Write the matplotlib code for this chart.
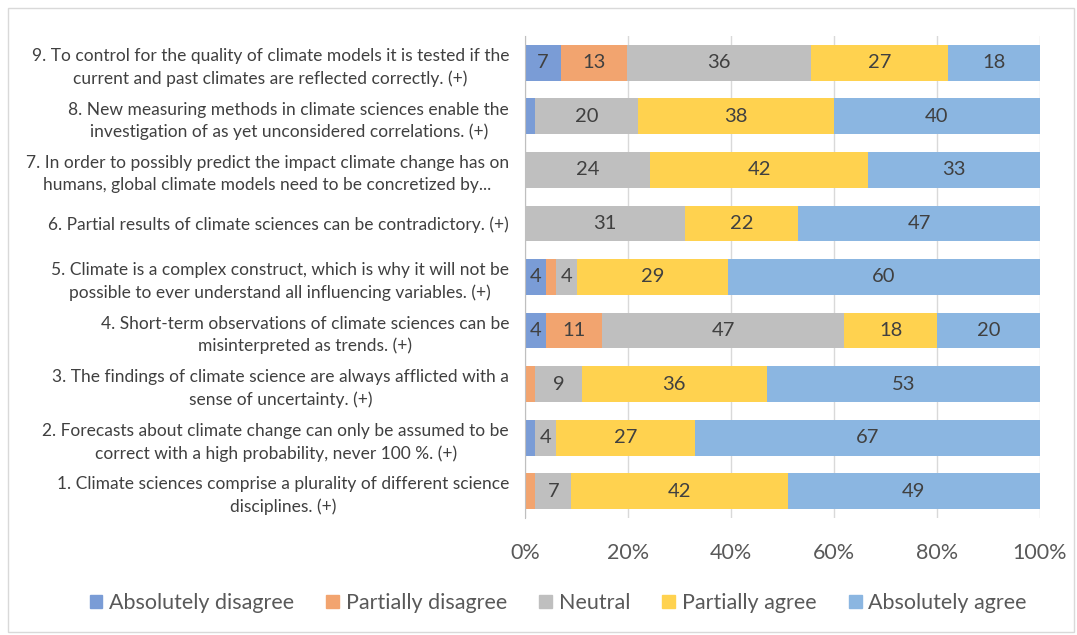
import matplotlib.pyplot as plt
import matplotlib.patches as mpatches
import numpy as np

plt.rcParams['font.family'] = ['Lato', 'DejaVu Sans']

# statements, bottom (1) to top (9)
statements = [
    "1. Climate sciences comprise a plurality of different science\ndisciplines. (+)",
    "2. Forecasts about climate change can only be assumed to be\ncorrect with a high probability, never 100 %. (+)",
    "3. The findings of climate science are always afflicted with a\nsense of uncertainty. (+)",
    "4. Short-term observations of climate sciences can be\nmisinterpreted as trends. (+)",
    "5. Climate is a complex construct, which is why it will not be\npossible to ever understand all influencing variables. (+)",
    "6. Partial results of climate sciences can be contradictory. (+)",
    "7. In order to possibly predict the impact climate change has on\nhumans, global climate models need to be concretized by...",
    "8. New measuring methods in climate sciences enable the\ninvestigation of as yet unconsidered correlations. (+)",
    "9. To control for the quality of climate models it is tested if the\ncurrent and past climates are reflected correctly. (+)",
]

abs_disagree  = [0, 2, 0, 4, 4, 0, 0, 2, 7]
part_disagree = [2, 0, 2, 11, 2, 0, 0, 0, 13]
neutral       = [7, 4, 9, 47, 4, 31, 24, 20, 36]
part_agree    = [42, 27, 36, 18, 29, 22, 42, 38, 27]
abs_agree     = [49, 67, 53, 20, 60, 47, 33, 40, 18]

# which values get a label (tiny segments stay unlabelled)
show_label = [
    [False, False, False, True, True, False, False, False, True],
    [False, False, False, True, False, False, False, False, True],
    [True, True, True, True, True, True, True, True, True],
    [True, True, True, True, True, True, True, True, True],
    [True, True, True, True, True, True, True, True, True],
]

series = [abs_disagree, part_disagree, neutral, part_agree, abs_agree]
names = ["Absolutely disagree", "Partially disagree", "Neutral",
         "Partially agree", "Absolutely agree"]
colors = ["#7A9CD6", "#F2A46F", "#BFBFBF", "#FFD24F", "#8BB6E1"]

data = np.array(series, dtype=float)
pct = data / data.sum(axis=0)

fig = plt.figure(figsize=(10.77, 6.35), dpi=100)
ax = fig.add_axes([525 / 1077, 1 - 518 / 635, 515 / 1077, 482 / 635])

y = np.arange(len(statements))
left = np.zeros(len(statements))
for i, (name, col) in enumerate(zip(names, colors)):
    ax.barh(y, pct[i], left=left, height=0.67, color=col, label=name, zorder=2)
    for j in range(len(y)):
        if data[i, j] > 0 and show_label[i][j]:
            ax.text(left[j] + pct[i, j] / 2, y[j], "%d" % data[i, j],
                    ha='center', va='center', fontsize=14.5, color='#404040', zorder=3)
    left += pct[i]

ax.set_xlim(0, 1)
ax.set_ylim(-0.5, len(y) - 0.5)
ax.set_xticks(np.linspace(0, 1, 6))
ax.set_xticklabels(["0%", "20%", "40%", "60%", "80%", "100%"], fontsize=15.5, color='#595959')
ax.set_yticks(y)
ax.set_yticklabels(statements, fontsize=12.5, color='#404040', multialignment='center',
                   linespacing=1.45)
ax.tick_params(axis='both', length=0)
ax.tick_params(axis='x', pad=18)
ax.tick_params(axis='y', pad=11.5)
ax.xaxis.grid(True, color='#D9D9D9', linewidth=1, zorder=0)
for s in ['top', 'right', 'bottom']:
    ax.spines[s].set_visible(False)
ax.spines['left'].set_color('#BFBFBF')

handles = [mpatches.Patch(color=c, label=n) for n, c in zip(names, colors)]
fig.legend(handles=handles, loc='center', bbox_to_anchor=(558 / 1077, 1 - 603 / 635),
           ncol=5, frameon=False, fontsize=15.5, labelcolor='#595959',
           handlelength=0.6, handleheight=0.6, handletextpad=0.3, columnspacing=1.5)

# thin border around the whole chart area
fig.patches.append(mpatches.Rectangle((8 / 1077, 3 / 635), 1066 / 1077, 624 / 635,
                                      transform=fig.transFigure, fill=False,
                                      edgecolor='#D9D9D9', linewidth=1))

fig.savefig("out.png", dpi=100)
